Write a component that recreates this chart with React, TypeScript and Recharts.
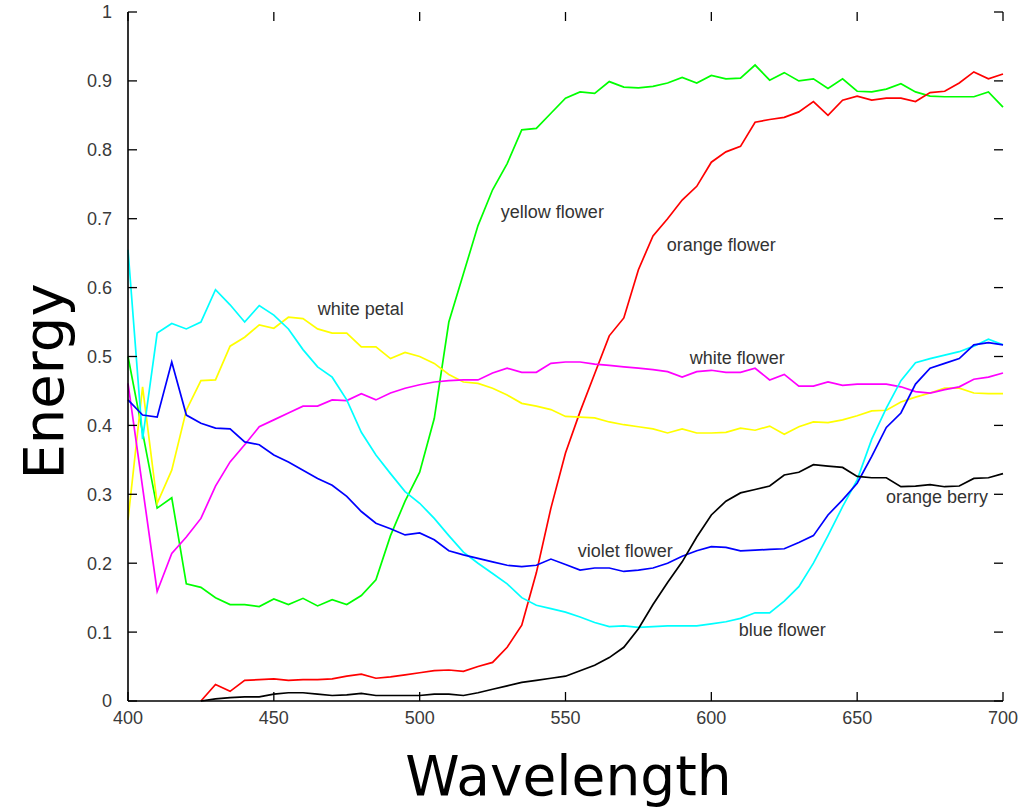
import React from 'react';
import { LineChart, Line, XAxis, YAxis, ReferenceDot } from 'recharts';

const wavelengths = [400,405,410,415,420,425,430,435,440,445,450,455,460,465,470,475,480,485,490,495,500,505,510,515,520,525,530,535,540,545,550,555,560,565,570,575,580,585,590,595,600,605,610,615,620,625,630,635,640,645,650,655,660,665,670,675,680,685,690,695,700];

const yellowFlower = [0.5,0.39,0.28,0.295,0.17,0.165,0.15,0.14,0.14,0.137,0.148,0.14,0.149,0.138,0.147,0.14,0.153,0.176,0.24,0.29,0.332,0.41,0.55,0.62,0.69,0.742,0.78,0.829,0.831,0.853,0.875,0.884,0.882,0.899,0.891,0.89,0.892,0.897,0.905,0.897,0.908,0.903,0.904,0.923,0.901,0.912,0.9,0.903,0.889,0.903,0.885,0.884,0.888,0.896,0.884,0.878,0.877,0.877,0.877,0.884,0.862];

const orangeFlower = [null,null,null,null,null,0.0,0.024,0.014,0.03,0.031,0.032,0.03,0.031,0.031,0.032,0.036,0.039,0.033,0.035,0.038,0.041,0.044,0.045,0.043,0.05,0.056,0.078,0.11,0.186,0.28,0.36,0.42,0.475,0.53,0.556,0.626,0.675,0.7,0.727,0.747,0.782,0.797,0.805,0.84,0.844,0.847,0.855,0.87,0.85,0.872,0.878,0.872,0.875,0.875,0.87,0.883,0.885,0.897,0.913,0.903,0.91];

const whitePetal = [0.263,0.456,0.287,0.335,0.422,0.465,0.466,0.515,0.528,0.546,0.541,0.557,0.555,0.54,0.534,0.534,0.514,0.514,0.497,0.506,0.5,0.49,0.474,0.463,0.461,0.454,0.444,0.432,0.428,0.423,0.413,0.412,0.411,0.405,0.401,0.398,0.395,0.389,0.395,0.389,0.389,0.39,0.396,0.393,0.399,0.387,0.398,0.405,0.404,0.408,0.414,0.421,0.422,0.434,0.441,0.447,0.454,0.454,0.447,0.446,0.446];

const whiteFlower = [0.461,0.31,0.159,0.214,0.238,0.265,0.312,0.347,0.372,0.398,0.408,0.418,0.428,0.428,0.437,0.436,0.446,0.437,0.447,0.454,0.459,0.463,0.465,0.466,0.466,0.476,0.483,0.477,0.477,0.49,0.492,0.492,0.489,0.487,0.485,0.483,0.481,0.478,0.47,0.478,0.48,0.477,0.477,0.483,0.466,0.474,0.457,0.457,0.463,0.458,0.46,0.46,0.46,0.456,0.449,0.447,0.452,0.456,0.467,0.47,0.476];

const blueFlower = [0.655,0.38,0.534,0.548,0.54,0.55,0.597,0.575,0.55,0.574,0.56,0.54,0.51,0.485,0.47,0.437,0.39,0.357,0.33,0.304,0.287,0.265,0.24,0.216,0.2,0.185,0.17,0.15,0.139,0.134,0.129,0.122,0.114,0.108,0.109,0.107,0.108,0.109,0.109,0.109,0.112,0.115,0.12,0.128,0.128,0.145,0.166,0.2,0.24,0.282,0.321,0.38,0.425,0.465,0.491,0.497,0.502,0.507,0.515,0.525,0.517];

const violetFlower = [0.437,0.415,0.412,0.492,0.415,0.403,0.396,0.395,0.376,0.372,0.357,0.347,0.335,0.323,0.313,0.297,0.275,0.258,0.25,0.241,0.244,0.234,0.218,0.212,0.207,0.202,0.197,0.195,0.197,0.206,0.198,0.19,0.193,0.193,0.188,0.19,0.193,0.2,0.21,0.218,0.224,0.223,0.218,0.219,0.22,0.221,0.23,0.24,0.27,0.292,0.316,0.355,0.397,0.418,0.46,0.483,0.49,0.497,0.517,0.52,0.517];

const orangeBerry = [null,null,null,null,null,0.0,0.003,0.005,0.006,0.006,0.01,0.012,0.012,0.01,0.008,0.009,0.011,0.008,0.008,0.008,0.008,0.01,0.01,0.008,0.012,0.017,0.022,0.027,0.03,0.033,0.036,0.044,0.052,0.063,0.078,0.105,0.14,0.172,0.202,0.238,0.27,0.29,0.302,0.307,0.312,0.328,0.332,0.343,0.341,0.339,0.326,0.324,0.324,0.311,0.312,0.314,0.311,0.312,0.323,0.324,0.33];

const xTicks = [400, 450, 500, 550, 600, 650, 700];
const yTicks = [0, 0.1, 0.2, 0.3, 0.4, 0.5, 0.6, 0.7, 0.8, 0.9, 1];

const seriesList = [
  { key: 'yellowFlower', values: yellowFlower, color: '#00ff00' },
  { key: 'orangeFlower', values: orangeFlower, color: '#ff0000' },
  { key: 'whitePetal', values: whitePetal, color: '#ffff00' },
  { key: 'whiteFlower', values: whiteFlower, color: '#ff00ff' },
  { key: 'blueFlower', values: blueFlower, color: '#00ffff' },
  { key: 'violetFlower', values: violetFlower, color: '#0000ff' },
  { key: 'orangeBerry', values: orangeBerry, color: '#000000' },
];

const labelNames = ['yellow flower', 'orange flower', 'white petal', 'white flower', 'orange berry', 'violet flower', 'blue flower'];
const labelX = [545.5, 603.4, 479.8, 608.9, 677.4, 570.5, 624.3];
const labelY = [0.71, 0.663, 0.57, 0.499, 0.296, 0.218, 0.103];

const data = wavelengths.map((w, i) => {
  const row: Record<string, number | null> = { w };
  seriesList.forEach((s) => { row[s.key] = s.values[i]; });
  return row;
});

const CHART_W = 1022;
const CHART_H = 811;
const MARGIN = { top: 12, right: 19, bottom: 0, left: 0 };
const Y_AXIS_W = 128;
const X_AXIS_H = 110;
const PLOT_W = CHART_W - MARGIN.left - MARGIN.right - Y_AXIS_W;
const PLOT_H = CHART_H - MARGIN.top - MARGIN.bottom - X_AXIS_H;

const TICK_FONT = '"Liberation Sans", Arial, Helvetica, sans-serif';
const TICK_COLOR = '#3a3a3a';
const TICK_LEN = 9;
const BOTTOM_MARGIN = 9;
const LEFT_MARGIN = 16;

const BottomTick = (props: any) => {
  const { x, y, payload } = props;
  const axisY = y - BOTTOM_MARGIN;
  const topY = axisY - PLOT_H;
  return (
    <g>
      <line x1={x} x2={x} y1={axisY} y2={axisY - TICK_LEN} stroke="#000" strokeWidth={1.3} />
      <line x1={x} x2={x} y1={topY} y2={topY + TICK_LEN} stroke="#000" strokeWidth={1.3} />
      <text x={x} y={y} dy="0.75em" textAnchor="middle" fontSize={18} fontFamily={TICK_FONT} fill={TICK_COLOR}>
        {payload.value}
      </text>
    </g>
  );
};

const LeftTick = (props: any) => {
  const { x, y, payload } = props;
  const axisX = x + LEFT_MARGIN;
  const rightX = axisX + PLOT_W;
  return (
    <g>
      <line x1={axisX} x2={axisX + TICK_LEN} y1={y} y2={y} stroke="#000" strokeWidth={1.3} />
      <line x1={rightX - TICK_LEN} x2={rightX} y1={y} y2={y} stroke="#000" strokeWidth={1.3} />
      <text x={x} y={y} dy="0.36em" textAnchor="end" fontSize={18} fontFamily={TICK_FONT} fill={TICK_COLOR}>
        {String(payload.value)}
      </text>
    </g>
  );
};

const EnergyLabel = (props: any) => {
  const vb = props.viewBox || { x: 0, y: 12, width: 128, height: 689 };
  const cx = vb.x + 63;
  const cy = vb.y + vb.height / 2 + 25;
  return (
    <text x={cx} y={cy} transform={`rotate(-90, ${cx}, ${cy})`} textAnchor="middle" fontSize={56} fontFamily='"DejaVu Sans", sans-serif' fill="#000">
      Energy
    </text>
  );
};

const WavelengthLabel = (props: any) => {
  const vb = props.viewBox || { x: 128, y: 701, width: 875, height: 110 };
  const cx = vb.x + vb.width / 2 + 3;
  const cy = vb.y + 94;
  return (
    <text x={cx} y={cy} textAnchor="middle" fontSize={55} fontFamily='"DejaVu Sans", sans-serif' fill="#000">
      Wavelength
    </text>
  );
};

export default function App() {
  return (
    <div style={{ position: 'absolute', left: 0, top: 0, width: CHART_W, height: CHART_H, background: '#fff' }}>
      <LineChart width={CHART_W} height={CHART_H} data={data} margin={MARGIN}>
        <XAxis
          dataKey="w"
          type="number"
          domain={[400, 700]}
          ticks={xTicks}
          height={X_AXIS_H}
          tickSize={0}
          tickMargin={BOTTOM_MARGIN}
          tickLine={false}
          axisLine={{ stroke: '#000', strokeWidth: 1.6 }}
          tick={BottomTick}
          interval={0}
          label={<WavelengthLabel />}
        />
        <XAxis
          xAxisId="top"
          orientation="top"
          dataKey="w"
          type="number"
          domain={[400, 700]}
          ticks={xTicks}
          height={0}
          tickLine={false}
          axisLine={{ stroke: '#000', strokeWidth: 1.6 }}
          tick={false}
        />
        <YAxis
          type="number"
          domain={[0, 1]}
          ticks={yTicks}
          width={Y_AXIS_W}
          tickSize={0}
          tickMargin={LEFT_MARGIN}
          tickLine={false}
          axisLine={{ stroke: '#000', strokeWidth: 1.6 }}
          tick={LeftTick}
          interval={0}
          label={<EnergyLabel />}
        />
        <YAxis
          yAxisId="right"
          orientation="right"
          type="number"
          domain={[0, 1]}
          ticks={yTicks}
          width={0}
          tickLine={false}
          axisLine={{ stroke: '#000', strokeWidth: 1.6 }}
          tick={false}
        />
        {seriesList.map((s) => (
          <Line
            key={s.key}
            dataKey={s.key}
            type="linear"
            stroke={s.color}
            strokeWidth={1.7}
            dot={false}
            activeDot={false}
            isAnimationActive={false}
            connectNulls={false}
          />
        ))}
        {labelNames.map((name, i) => (
          <ReferenceDot
            key={name}
            x={labelX[i]}
            y={labelY[i]}
            r={0}
            fill="none"
            stroke="none"
            label={{ value: name, position: 'center', fill: '#333', fontSize: 18, fontFamily: TICK_FONT }}
          />
        ))}
      </LineChart>
    </div>
  );
}
